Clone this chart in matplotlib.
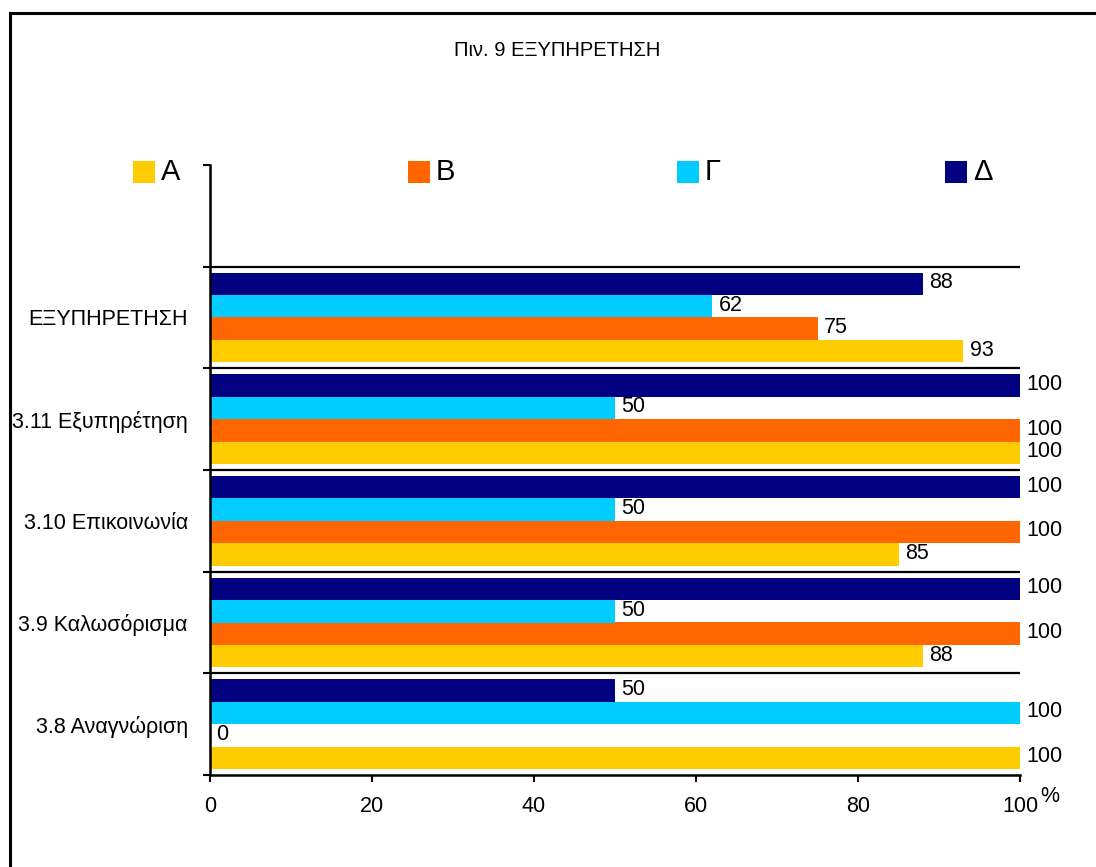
import matplotlib
matplotlib.use("Agg")
import matplotlib.pyplot as plt
from matplotlib.patches import Rectangle

plt.rcParams["font.family"] = ["Liberation Sans", "DejaVu Sans"]

# Data
categories = ["3.8 Αναγνώριση", "3.9 Καλωσόρισμα", "3.10 Επικοινωνία",
              "3.11 Εξυπηρέτηση", "ΕΞΥΠΗΡΕΤΗΣΗ"]
series = ["Α", "Β", "Γ", "Δ"]
values_A = [100, 88, 85, 100, 93]
values_B = [0, 100, 100, 100, 75]
values_G = [100, 50, 50, 50, 62]
values_D = [50, 100, 100, 100, 88]
colors = ["#FFCC00", "#FF6600", "#00CCFF", "#000080"]
x_ticks = [0, 20, 40, 60, 80, 100]
title = "Πιν. 9 ΕΞΥΠΗΡΕΤΗΣΗ"

W, H = 1096, 867
fig = plt.figure(figsize=(W / 100, H / 100), dpi=100)
ax = fig.add_axes([210 / W, 1 - 775 / H, (1020 - 210) / W, (775 - 165) / H])

fs = 15.5
bar_h = 0.22
offsets = [-1.5 * bar_h, -0.5 * bar_h, 0.5 * bar_h, 1.5 * bar_h]
all_vals = [values_A, values_B, values_G, values_D]
for vals, col, off in zip(all_vals, colors, offsets):
    ys = [i + off for i in range(len(categories))]
    ax.barh(ys, vals, height=bar_h, color=col, edgecolor="none", zorder=2)
    for y, v in zip(ys, vals):
        ax.text(v + 0.8, y + 0.01, f"{v}", va="center", ha="left",
                fontsize=fs, clip_on=False, zorder=3)

n_slots = len(categories) + 1  # empty slot above the top group holds the legend
ax.set_ylim(-0.5, n_slots - 0.5)
ax.set_xlim(0, 100)

# Separators between category groups
for b in range(len(categories)):
    ax.axhline(b + 0.5, color="black", lw=1.6, zorder=1)

ax.set_yticks([b - 0.5 for b in range(n_slots + 1)])
ax.set_yticklabels([])
ax.set_yticks(range(len(categories)), minor=True)
ax.set_yticklabels(categories, minor=True, fontsize=fs)
ax.tick_params(axis="y", which="minor", length=0, pad=16)
ax.tick_params(axis="y", which="major", length=5, width=1.5, direction="out")

ax.set_xticks(x_ticks)
ax.set_xticklabels([str(t) for t in x_ticks], fontsize=fs)
ax.tick_params(axis="x", length=5, width=1.5, direction="out", pad=10)

for side in ("top", "right"):
    ax.spines[side].set_visible(False)
for side in ("left", "bottom"):
    ax.spines[side].set_linewidth(1.8)

ax.text(1.0247, -0.036, "%", transform=ax.transAxes, fontsize=fs,
        ha="left", va="center")

# Title
fig.text(557 / W, 1 - 50 / H, title, ha="center", va="center", fontsize=14.5)

# Legend row
leg_x = [133, 408, 677, 945]
sq = 22
for name, col, lx in zip(series, colors, leg_x):
    fig.add_artist(Rectangle((lx / W, 1 - 183 / H), sq / W, sq / H,
                             transform=fig.transFigure, facecolor=col,
                             edgecolor="none"))
    fig.text((lx + sq + 6) / W, 1 - 172 / H, name, ha="left", va="center",
             fontsize=21)

# Outer frame (left and top edges visible)
fig.add_artist(Rectangle((10 / W, -0.1), 1.0, (H - 13) / H + 0.1,
                         transform=fig.transFigure, fill=False,
                         edgecolor="black", lw=2.2, clip_on=False))

fig.savefig("out.png", dpi=100)
